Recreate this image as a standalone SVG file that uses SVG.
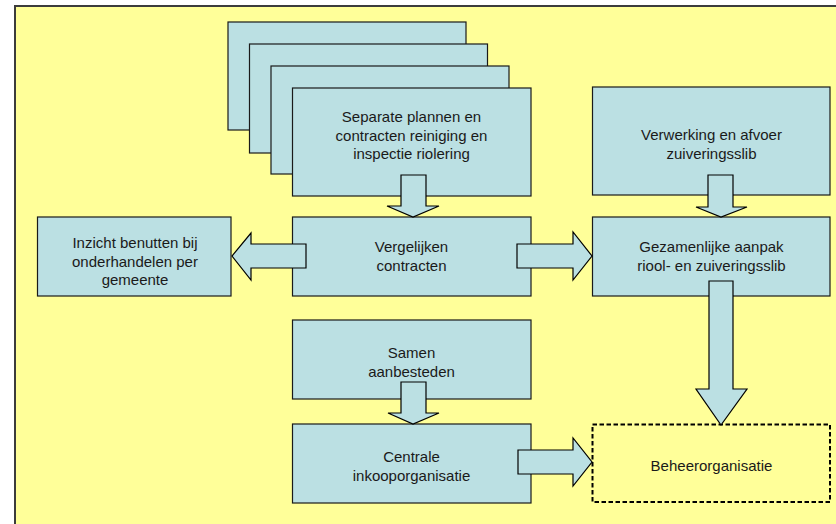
<svg xmlns="http://www.w3.org/2000/svg" width="836" height="524" viewBox="0 0 836 524">
<style>
.bg{fill:#FFFF99;stroke:#3c3c3c;stroke-width:2}
.box{fill:#BBE0E3;stroke:#1a1a1a;stroke-width:1.2}
.dash{fill:none;stroke:#000;stroke-width:2;stroke-dasharray:4.5 2.5}
.arr{fill:#BBE0E3;stroke:#000;stroke-width:1.2;stroke-linejoin:miter}
text{font-family:"Liberation Sans",Arial,sans-serif;font-size:15px;fill:#1a1a1a;text-anchor:middle}
</style>
<rect x="0" y="0" width="836" height="524" fill="#fff"/>
<rect class="bg" x="15" y="6" width="840" height="540"/>
<g id="stack">
<rect class="box" x="228" y="22" width="238" height="108"/>
<rect class="box" x="249.5" y="44" width="238" height="109"/>
<rect class="box" x="271" y="66" width="238" height="108"/>
</g>
<g id="separate">
<rect class="box" x="292.5" y="88" width="238.5" height="108"/>
<text x="411.5" y="122">Separate plannen en</text>
<text x="411.5" y="140.5">contracten reiniging en</text>
<text x="411.5" y="159">inspectie riolering</text>
</g>
<g id="verwerking">
<rect class="box" x="592.5" y="87" width="237.5" height="108"/>
<text x="711.5" y="140">Verwerking en afvoer</text>
<text x="711.5" y="158.5">zuiveringsslib</text>
</g>
<g id="inzicht">
<rect class="box" x="37.5" y="217" width="193.5" height="79"/>
<text x="135" y="248">Inzicht benutten bij</text>
<text x="135" y="266.5">onderhandelen per</text>
<text x="135" y="285">gemeente</text>
</g>
<g id="vergelijken">
<rect class="box" x="292.5" y="217" width="238.5" height="79"/>
<text x="411.5" y="252">Vergelijken</text>
<text x="411.5" y="270.5">contracten</text>
</g>
<g id="gezamenlijke">
<rect class="box" x="592.5" y="217" width="237.5" height="79"/>
<text x="711.5" y="252">Gezamenlijke aanpak</text>
<text x="711.5" y="270.5">riool- en zuiveringsslib</text>
</g>
<g id="samen">
<rect class="box" x="292.5" y="320" width="238.5" height="79"/>
<text x="411.5" y="358">Samen</text>
<text x="411.5" y="376.5">aanbesteden</text>
</g>
<g id="centrale">
<rect class="box" x="292.5" y="424" width="238.5" height="79"/>
<text x="411.5" y="462">Centrale</text>
<text x="411.5" y="480.5">inkooporganisatie</text>
</g>
<g id="beheer">
<rect class="dash" x="592.5" y="424.5" width="237.5" height="77.5"/>
<text x="711.5" y="471">Beheerorganisatie</text>
</g>
<g id="connectors">
<polygon class="arr" points="401,175 426,175 426,206 439,206 413,217 387,206 401,206"/>
<polygon class="arr" points="708,175 733,175 733,207 747,207 721,217 696,207 708,207"/>
<polygon class="arr" points="517,244 573,244 573,232 592,256 573,280 573,268 517,268"/>
<polygon class="arr" points="306,244 251,244 251,233 232,256 251,280 251,268 306,268"/>
<polygon class="arr" points="709,281 733,281 733,389 747,389 721,425 696,389 709,389"/>
<polygon class="arr" points="401,382 426,382 426,413 439,413 413,424 388,413 401,413"/>
<polygon class="arr" points="518,450 573,450 573,438 592,462 573,486 573,474 518,474"/>
</g>
</svg>
